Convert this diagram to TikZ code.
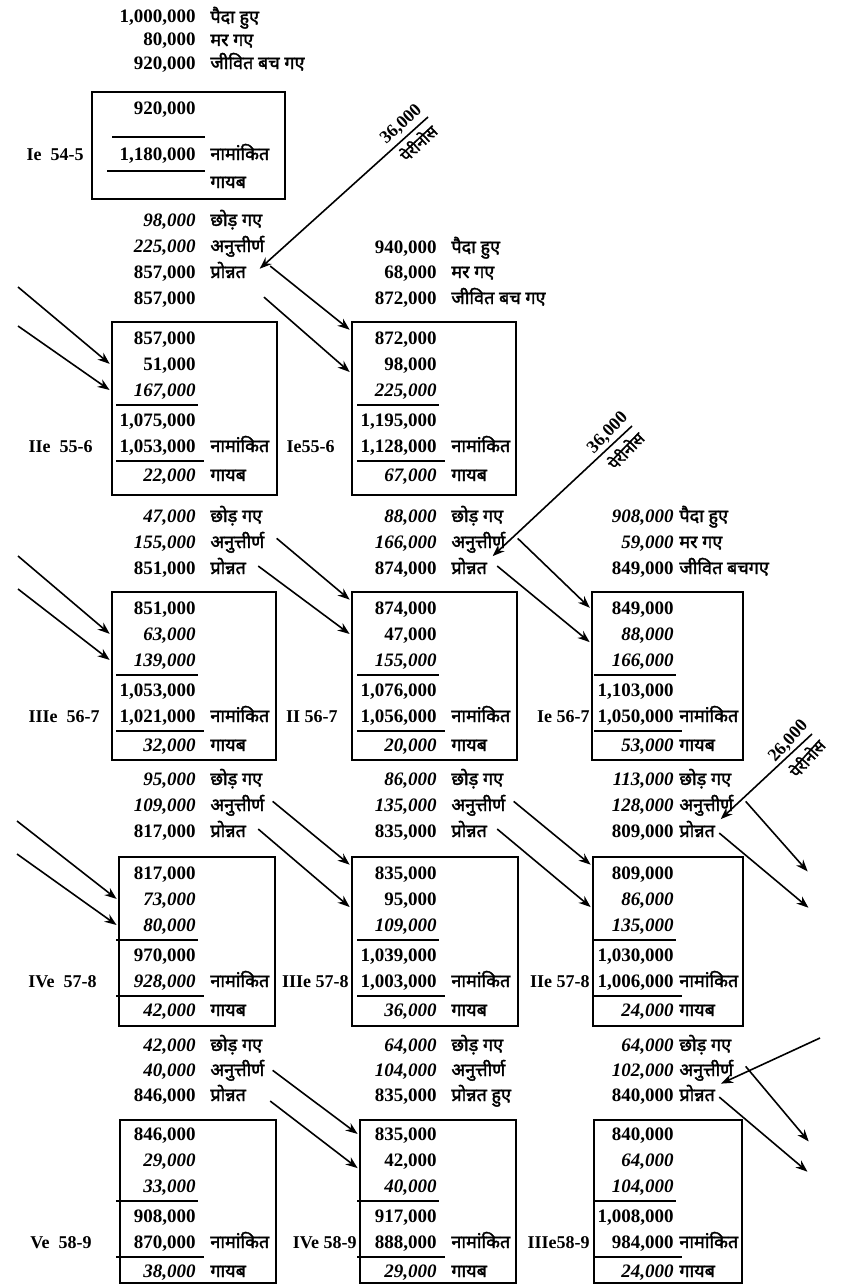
\documentclass[tikz,border=0pt]{standalone}
\usepackage{fontspec}
\setmainfont{Liberation Serif}
\newfontfamily\devfont[Script=Devanagari, FakeBold=2]{Noto Sans}
\usepackage{tikz}
\usetikzlibrary{arrows.meta, positioning, fit, calc}

\tikzset{
  num/.style={anchor=base east, inner sep=0pt, font=\fontsize{9.5}{11}\selectfont\bfseries},
  hin/.style={anchor=base west, inner sep=0pt, font=\fontsize{9}{10}\selectfont\devfont},
  lbl/.style={anchor=base east, inner sep=0pt, font=\fontsize{9}{11}\selectfont\bfseries},
  yrbox/.style={draw, thick, inner sep=0pt},
  sumline/.style={thick},
  flow/.style={-{Stealth[length=6pt, width=4.5pt]}, thick, shorten >=1pt},
  tag/.style={inner sep=2.5pt, font=\fontsize{9}{10}\selectfont\bfseries},
  tagh/.style={inner sep=2pt, font=\fontsize{8}{9}\selectfont\devfont}
}

% one text line: number / hindi word
\newcommand{\nm}[4]{\node[num] (#1) at (#2,#3+6) {#4};}
\newcommand{\hn}[4]{\node[hin] (#1) at (#2,#3+6) {#4};}
\newcommand{\colgap}{14}
\newcommand{\hdr}[5]{\nm{#1}{#2}{#3}{#4}\hn{#1h}{#2+\colgap}{#3}{#5}}
% frame of a year box
\newcommand{\frm}[5]{\coordinate (#1-nw) at (#2,#3); \coordinate (#1-se) at (#4,#5);
  \node[yrbox, fit=(#1-nw)(#1-se)] (#1) {};}
% the six figures of a year box
\newcommand{\yrrows}[9]{%
  \nm{#1-1}{#2}{#3+16}{#4}
  \nm{#1-2}{#2}{#3+42}{#5}
  \nm{#1-3}{#2}{#3+68}{#6}
  \draw[sumline] (#2-80,#3+83) -- (#2+2,#3+83);
  \nm{#1-4}{#2}{#3+98}{#7}
  \nm{#1-5}{#2}{#3+124}{#8}
  \hn{#1-5h}{#2+\colgap}{#3+124}{नामांकित}
  \draw[sumline] (#2-80,#3+139) -- (#2+8,#3+139);
  \nm{#1-6}{#2}{#3+153}{#9}
  \hn{#1-6h}{#2+\colgap}{#3+153}{गायब}}

\begin{document}
\begin{tikzpicture}[x=0.5pt, y=-0.5pt]
    \useasboundingbox (0,0) rectangle (845,1285);

    % 1954-55
    \hdr{a54s1}{196}{17}{1,000,000}{पैदा हुए}
    \hdr{a54s2}{196}{40}{80,000}{मर गए}
    \hdr{a54s3}{196}{63}{920,000}{जीवित बच गए}
    \frm{bA54}{92}{92}{285}{199}
    \nm{A54-1}{196}{108}{920,000}
    \draw[sumline] (112,137) -- (205,137);
    \nm{A54-2}{196}{154}{1,180,000}
    \hn{A54-2h}{210}{154}{नामांकित}
    \draw[sumline] (107,171) -- (205,171);
    \hn{A54-3h}{210}{182}{गायब}
    \node[lbl] (tA54) at (84,160) {Ie\enspace 54-5};

    % 1955-56
    \hdr{a55s1}{196}{220}{\itshape 98,000}{छोड़ गए}
    \hdr{a55s2}{196}{246}{\itshape 225,000}{अनुत्तीर्ण}
    \hdr{a55s3}{196}{272}{857,000}{प्रोन्नत}
    \nm{a55s4}{196}{298}{857,000}
    \hdr{b55s1}{437}{247}{940,000}{पैदा हुए}
    \hdr{b55s2}{437}{272}{68,000}{मर गए}
    \hdr{b55s3}{437}{298}{872,000}{जीवित बच गए}
    \frm{bA55}{112}{322}{277}{495}
    \yrrows{A55}{196}{322}{857,000}{51,000}{\itshape 167,000}{1,075,000}{1,053,000}{\itshape 22,000}
    \frm{bB55}{352}{322}{516}{495}
    \yrrows{B55}{437}{322}{872,000}{98,000}{\itshape 225,000}{1,195,000}{1,128,000}{\itshape 67,000}
    \node[lbl] (tA55) at (93,452) {IIe\enspace 55-6};
    \node[lbl] (tB55) at (335,452) {Ie55-6};

    % 1956-57
    \hdr{a56s1}{196}{516}{\itshape 47,000}{छोड़ गए}
    \hdr{a56s2}{196}{542}{\itshape 155,000}{अनुत्तीर्ण}
    \hdr{a56s3}{196}{568}{851,000}{प्रोन्नत}
    \hdr{b56s1}{437}{516}{\itshape 88,000}{छोड़ गए}
    \hdr{b56s2}{437}{542}{\itshape 166,000}{अनुत्तीर्ण}
    \hdr{b56s3}{437}{568}{874,000}{प्रोन्नत}
    \frm{bA56}{112}{592}{276}{760}
    \yrrows{A56}{196}{592}{851,000}{\itshape 63,000}{\itshape 139,000}{1,053,000}{1,021,000}{\itshape 32,000}
    \frm{bB56}{352}{592}{517}{760}
    \yrrows{B56}{437}{592}{874,000}{47,000}{\itshape 155,000}{1,076,000}{1,056,000}{\itshape 20,000}
    \node[lbl] (tA56) at (100,722) {IIIe\enspace 56-7};
    \node[lbl] (tB56) at (338,722) {II 56-7};

    % 1957-58
    \hdr{a57s1}{196}{779}{\itshape 95,000}{छोड़ गए}
    \hdr{a57s2}{196}{805}{\itshape 109,000}{अनुत्तीर्ण}
    \hdr{a57s3}{196}{831}{817,000}{प्रोन्नत}
    \hdr{b57s1}{437}{779}{\itshape 86,000}{छोड़ गए}
    \hdr{b57s2}{437}{805}{\itshape 135,000}{अनुत्तीर्ण}
    \hdr{b57s3}{437}{831}{835,000}{प्रोन्नत}
    \frm{bA57}{119}{857}{275}{1026}
    \yrrows{A57}{196}{857}{817,000}{\itshape 73,000}{\itshape 80,000}{970,000}{\itshape 928,000}{\itshape 42,000}
    \frm{bB57}{352}{857}{518}{1026}
    \yrrows{B57}{437}{857}{835,000}{95,000}{\itshape 109,000}{1,039,000}{1,003,000}{\itshape 36,000}
    \node[lbl] (tA57) at (97,987) {IVe\enspace 57-8};
    \node[lbl] (tB57) at (349,987) {IIIe 57-8};

    % 1958-59
    \hdr{a58s1}{196}{1045}{\itshape 42,000}{छोड़ गए}
    \hdr{a58s2}{196}{1070}{\itshape 40,000}{अनुत्तीर्ण}
    \hdr{a58s3}{196}{1095}{846,000}{प्रोन्नत}
    \hdr{b58s1}{437}{1045}{\itshape 64,000}{छोड़ गए}
    \hdr{b58s2}{437}{1070}{\itshape 104,000}{अनुत्तीर्ण}
    \hdr{b58s3}{437}{1095}{835,000}{प्रोन्नत हुए}
    \frm{bA58}{120}{1120}{276}{1283}
    \yrrows{A58}{196}{1118}{846,000}{\itshape 29,000}{\itshape 33,000}{908,000}{870,000}{\itshape 38,000}
    \frm{bB58}{360}{1120}{516}{1283}
    \yrrows{B58}{437}{1118}{835,000}{42,000}{\itshape 40,000}{917,000}{888,000}{\itshape 29,000}
    \node[lbl] (tA58) at (92,1248) {Ve\enspace 58-9};
    \node[lbl] (tB58) at (357,1248) {IVe 58-9};

    % third column, closer word gap
    \renewcommand{\colgap}{5}
    \hdr{c56s1}{674}{516}{\itshape 908,000}{पैदा हुए}
    \hdr{c56s2}{674}{542}{\itshape 59,000}{मर गए}
    \hdr{c56s3}{674}{568}{849,000}{जीवित बचगए}
    \frm{bC56}{592}{592}{743}{760}
    \yrrows{C56}{674}{592}{849,000}{\itshape 88,000}{\itshape 166,000}{1,103,000}{1,050,000}{\itshape 53,000}
    \node[lbl] (tC56) at (590,722) {Ie 56-7};
    \hdr{c57s1}{674}{779}{\itshape 113,000}{छोड़ गए}
    \hdr{c57s2}{674}{805}{\itshape 128,000}{अनुत्तीर्ण}
    \hdr{c57s3}{674}{831}{809,000}{प्रोन्नत}
    \frm{bC57}{593}{857}{743}{1026}
    \yrrows{C57}{674}{857}{809,000}{\itshape 86,000}{\itshape 135,000}{1,030,000}{1,006,000}{\itshape 24,000}
    \node[lbl] (tC57) at (590,987) {IIe 57-8};
    \hdr{c58s1}{674}{1045}{\itshape 64,000}{छोड़ गए}
    \hdr{c58s2}{674}{1070}{\itshape 102,000}{अनुत्तीर्ण}
    \hdr{c58s3}{674}{1095}{840,000}{प्रोन्नत}
    \frm{bC58}{594}{1120}{742}{1283}
    \yrrows{C58}{674}{1118}{840,000}{\itshape 64,000}{\itshape 104,000}{1,008,000}{984,000}{\itshape 24,000}
    \node[lbl] (tC58) at (590,1248) {IIIe58-9};

    % Arrows from the left edge
    \coordinate (inA55a) at (18,287);
    \coordinate (inA55b) at (18,326);
    \coordinate (inA56a) at (18,556);
    \coordinate (inA56b) at (18,589);
    \coordinate (inA57a) at (17,821);
    \coordinate (inA57b) at (17,854);
    \draw[flow] (inA55a) -- (bA55.west |- A55-2);
    \draw[flow] (inA55b) -- (bA55.west |- A55-3);
    \draw[flow] (inA56a) -- (bA56.west |- A56-2);
    \draw[flow] (inA56b) -- (bA56.west |- A56-3);
    \draw[flow] (inA57a) -- (bA57.west |- A57-2);
    \draw[flow] (inA57b) -- (bA57.west |- A57-3);

    % Promoted and failed into the next box
    \draw[flow] ([xshift=12pt, yshift=2pt]a55s3h.east) -- (bB55.west |- B55-1.north);
    \draw[flow] ([xshift=34pt, yshift=1pt]a55s4.east) -- (bB55.west |- B55-2.south);
    \draw[flow] ([xshift=6pt, yshift=2pt]a56s2h.east) -- (bB56.west |- B56-1.north);
    \draw[flow] ([xshift=6pt]a56s3h.east) -- (bB56.west |- B56-2);
    \draw[flow] ([xshift=6pt, yshift=2pt]b56s2h.east) -- (bC56.west |- C56-1);
    \draw[flow] ([xshift=5pt]b56s3h.east) -- (bC56.west |- C56-2.south);
    \draw[flow] ([xshift=4pt, yshift=2pt]a57s2h.east) -- (bB57.west |- B57-1.north);
    \draw[flow] ([xshift=6pt]a57s3h.east) -- (bB57.west |- B57-2.south);
    \draw[flow] ([xshift=4pt, yshift=2pt]b57s2h.east) -- (bC57.west |- C57-1.north);
    \draw[flow] ([xshift=5pt]b57s3h.east) -- (bC57.west |- C57-2.south);
    \draw[flow] ([xshift=4pt]a58s2h.east) -- (bB58.west |- B58-1);
    \draw[flow] ([xshift=12pt, yshift=-4pt]a58s3h.east) -- (bB58.west |- B58-2.south);

    % Arrows leaving to the right
    \coordinate (outC57a) at (809,873);
    \coordinate (outC57b) at (810,909);
    \coordinate (outC58a) at (810,1143);
    \coordinate (outC58b) at (809,1173);
    \draw[flow] ([xshift=6pt, yshift=2pt]c57s2h.east) -- (outC57a);
    \draw[flow] ([xshift=2pt, yshift=-2pt]c57s3h.east) -- (outC57b);
    \draw[flow] ([xshift=6pt, yshift=2pt]c58s2h.east) -- (outC58a);
    \draw[flow] ([xshift=2pt, yshift=-2pt]c58s3h.east) -- (outC58b);

    % Perinos
    \coordinate (pr1) at (428,117);
    \coordinate (pq1) at (410,134);
    \draw[flow] (pr1) -- ([xshift=6pt]a55s3h.east);
    \node[tag, rotate=43, anchor=south] (pn1) at (pq1) {36,000};
    \node[tagh, rotate=43, anchor=north] (pt1) at (pq1) {पेरीनोस};
    \coordinate (pr2) at (632,426);
    \coordinate (pq2) at (617,442);
    \draw[flow] (pr2) -- ([xshift=2pt]b56s3h.north east);
    \node[tag, rotate=46, anchor=south] (pn2) at (pq2) {36,000};
    \node[tagh, rotate=46, anchor=north] (pt2) at (pq2) {पेरीनोस};
    \coordinate (pr3) at (812,734);
    \coordinate (pq3) at (798,750);
    \draw[flow] (pr3) -- ([xshift=2pt]c57s3h.north east);
    \node[tag, rotate=48, anchor=south] (pn3) at (pq3) {26,000};
    \node[tagh, rotate=48, anchor=north] (pt3) at (pq3) {पेरीनोस};
    \coordinate (pr4) at (820,1038);
    \draw[flow] (pr4) -- ([xshift=2pt]c58s3h.north east);
\end{tikzpicture}
\end{document}
